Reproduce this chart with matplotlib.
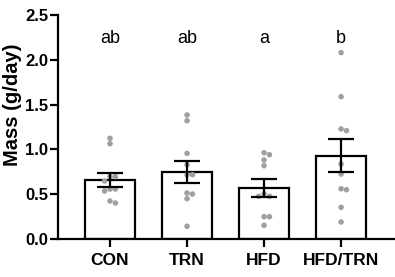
import matplotlib
matplotlib.use("Agg")
import matplotlib.pyplot as plt
import numpy as np

plt.rcParams['font.family'] = ['Liberation Sans', 'DejaVu Sans']

groups = ["CON", "TRN", "HFD", "HFD/TRN"]
means = [0.655, 0.75, 0.565, 0.93]
sems = [0.08, 0.122, 0.10, 0.184]
letters = ["ab", "ab", "a", "b"]
points = [
    [1.124, 1.064, 0.696, 0.696, 0.647, 0.558, 0.536, 0.558, 0.402, 0.424],
    [1.384, 1.32, 0.956, 0.83, 0.718, 0.718, 0.502, 0.513, 0.45, 0.142],
    [0.963, 0.941, 0.882, 0.818, 0.506, 0.476, 0.476, 0.249, 0.249, 0.153],
    [2.08, 1.589, 1.209, 1.228, 0.837, 0.725, 0.55, 0.561, 0.353, 0.19],
]
yticks = [0.0, 0.5, 1.0, 1.5, 2.0, 2.5]

fig = plt.figure(figsize=(3.95, 2.77), dpi=100)
ax = fig.add_axes([58/395, 38/277, 337/395, 224/277])
x = np.arange(len(groups))
ax.set_xlim(-0.675, 3.70)
ax.set_ylim(0, 2.5)

ax.bar(x, means, width=0.65, color="white", edgecolor="black", linewidth=1.6, zorder=1)

# simple beeswarm in display space
dot_d = 5.4  # px
fig.canvas.draw()
for i, vals in enumerate(points):
    placed = []
    order = np.argsort(vals)[::-1]
    xs = np.zeros(len(vals))
    for j in order:
        v = vals[j]
        py = ax.transData.transform((0, v))[1]
        for k in [0, 1, -1, 2, -2, 3, -3]:
            off = k * dot_d
            ok = all((off - ox) ** 2 + (py - oy) ** 2 >= (dot_d * 0.95) ** 2 for ox, oy in placed)
            if ok:
                break
        placed.append((off, py))
        px0 = ax.transData.transform((i, v))[0]
        xs[j] = ax.transData.inverted().transform((px0 + off, py))[0]
    ax.scatter(xs, vals, s=16, color="#a0a0a0", edgecolors="none", zorder=2)

ax.errorbar(x, means, yerr=sems, fmt="none", ecolor="black", elinewidth=1.6,
            capsize=9.5, capthick=1.6, zorder=3)

for i, t in enumerate(letters):
    ax.text(x[i], 2.24, t, ha="center", va="center", fontsize=13)

for s in ["top", "right"]:
    ax.spines[s].set_visible(False)
for s in ["left", "bottom"]:
    ax.spines[s].set_linewidth(1.6)

ax.set_yticks(yticks)
ax.set_yticklabels([f"{t:.1f}" for t in yticks], fontweight="bold", fontsize=12)
ax.set_xticks(x)
ax.set_xticklabels(groups, fontweight="bold", fontsize=12.5)
ax.tick_params(axis="y", length=6, width=1.6, pad=1)
ax.tick_params(axis="x", length=6, width=1.6, pad=4)
ax.set_ylabel("Mass (g/day)", fontweight="bold", fontsize=14.5)
ax.yaxis.set_label_coords(-0.108, 0.6)

fig.savefig("out.png", dpi=100)
